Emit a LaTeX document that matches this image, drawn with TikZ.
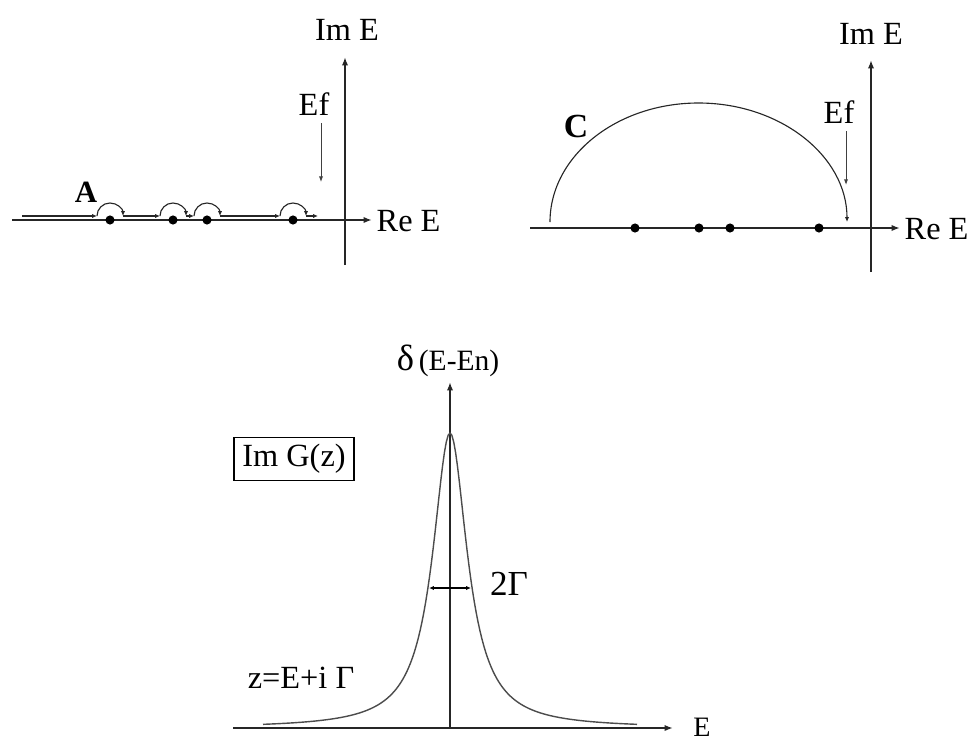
\documentclass[tikz,border=0pt]{standalone}
\usepackage{fontspec}
\setmainfont{Liberation Serif}
\usepackage{tikz}
\usetikzlibrary{arrows.meta}

\begin{document}
\begin{tikzpicture}[x=0.025cm, y=0.025cm,
  lbl/.style={font=\fontsize{23}{27}\selectfont, inner sep=1pt},
  tag/.style={lbl, font=\fontsize{22}{26}\selectfont\bfseries},
  axis/.style={line width=1.2pt, draw=black!85, -{Latex[length=6pt,width=4.5pt]}},
  hint/.style={line width=0.7pt, draw=black!75, -{Latex[length=4pt,width=3pt]}},
  contour/.style={line width=0.8pt, draw=black!85, -{Latex[length=3.5pt,width=3pt]}},
  pole/.style={circle, fill=black, inner sep=0pt, minimum size=6.5pt},
  peak/.style={line width=1pt, draw=black!70},
  width/.style={line width=0.8pt, {Latex[length=3.5pt,width=3pt]}-{Latex[length=3.5pt,width=3pt]}}
]
\useasboundingbox (0,0) rectangle (972,-744);

% Left plane: contour A along the real axis.
\coordinate (reA0) at (12,-220);
\coordinate (reA1) at (372,-220);
\coordinate (imA0) at (345,-265);
\coordinate (imA1) at (345,-57);
\draw[axis] (reA0) -- (reA1);
\draw[axis] (imA0) -- (imA1);
\node[lbl, anchor=west] (reEA) at (375,-221) {Re E};
\node[lbl] (imEA) at (347,-30) {Im E};
\node[lbl] (efA) at (314,-104) {Ef};
\coordinate (efA1) at (321,-182);
\draw[hint] (efA.south -| efA1) ++(0,-6) coordinate (efA0) -- (efA1);
\node[tag] (labA) at (86,-192) {A};

\foreach \p [count=\i] in {110,173,207,293}
  \node[pole] (pa\i) at (\p,-220) {};
\foreach \a/\b in {22/97,123/160,186/194,220/280,306/318}
  \draw[contour] (\a,-216) -- (\b,-216);
\foreach \p in {110,173,207,293}
  \draw[contour] (\p-13,-216) arc[start angle=180, end angle=0, radius=13];

% Right plane: closed contour C.
\coordinate (reC0) at (530,-228);
\coordinate (reC1) at (900,-228);
\coordinate (imC0) at (871,-272);
\coordinate (imC1) at (871,-60);
\draw[axis] (reC0) -- (reC1);
\draw[axis] (imC0) -- (imC1);
\node[lbl, anchor=west] (reEC) at (903,-229) {Re E};
\node[lbl] (imEC) at (871,-34) {Im E};
\node[lbl] (efC) at (839,-112) {Ef};
\coordinate (efC1) at (846,-185);
\draw[hint] (efC.south -| efC1) ++(0,-6) -- (efC1);
\node[tag, font=\fontsize{24}{28}\selectfont\bfseries] (labC) at (576,-126) {C};

\foreach \p [count=\i] in {635,699,730,819}
  \node[pole] (pc\i) at (\p,-228) {};
\draw[contour] (550,-222) arc[start angle=180, end angle=0, x radius=148.5, y radius=119];

% Bottom: spectral function peak.
\coordinate (eax0) at (233,-728);
\coordinate (eax1) at (673,-728);
\coordinate (dax0) at (450,-728);
\coordinate (dax1) at (450,-382);
\draw[axis] (eax0) -- (eax1);
\draw[axis] (dax0) -- (dax1);
\node[lbl, font=\fontsize{20}{24}\selectfont] (eLbl) at (702,-727) {E};
\node[lbl, font=\fontsize{21}{25}\selectfont] (dLbl) at (448,-361) {{\fontsize{26}{28}\selectfont δ}\,(E-En)};

\draw[peak] plot[domain=-187:187, samples=201] ({450+\x}, {-728+295/(1+(\x/21)^2)});

\coordinate (wl) at (429,-588);
\coordinate (wr) at (471,-588);
\draw[width] (wl) -- (wr);
\node[lbl, font=\fontsize{25}{28}\selectfont] (wLbl) at (509,-584) {2Γ};

\node[lbl, draw, line width=0.9pt, inner xsep=6pt, inner ysep=5pt] (img) at (294,-459) {Im G(z)};
\node[lbl] (zLbl) at (301,-678) {z=E+i Γ};

\end{tikzpicture}
\end{document}
